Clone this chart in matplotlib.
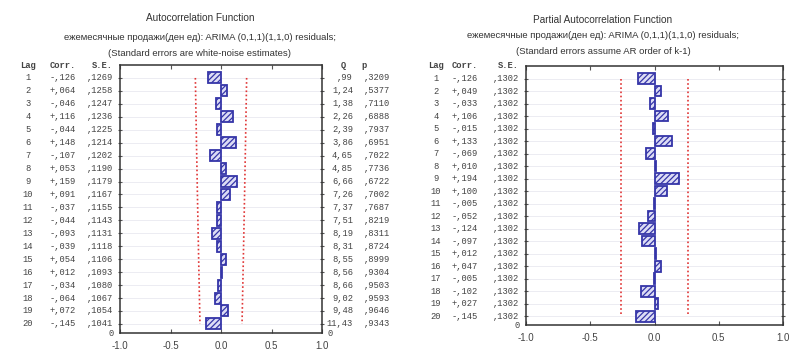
import numpy as np
import matplotlib
matplotlib.use("Agg")
import matplotlib.pyplot as plt
from matplotlib.transforms import blended_transform_factory

# --- values ---
lags = list(range(1, 21))

acf_corr = [-.126, .064, -.046, .116, -.044, .148, -.107, .053, .159, .091,
            -.037, -.044, -.093, -.039, .054, .012, -.034, -.064, .072, -.145]
acf_se = [.1269, .1258, .1247, .1236, .1225, .1214, .1202, .1190, .1179, .1167,
          .1155, .1143, .1131, .1118, .1106, .1093, .1080, .1067, .1054, .1041]
acf_q = [.99, 1.24, 1.38, 2.26, 2.39, 3.86, 4.65, 4.85, 6.66, 7.26,
         7.37, 7.51, 8.19, 8.31, 8.55, 8.56, 8.66, 9.02, 9.48, 11.43]
acf_p = [.3209, .5377, .7110, .6888, .7937, .6951, .7022, .7736, .6722, .7002,
         .7687, .8219, .8311, .8724, .8999, .9304, .9503, .9593, .9646, .9343]

pacf_corr = [-.126, .049, -.033, .106, -.015, .133, -.069, .010, .194, .100,
             -.005, -.052, -.124, -.097, .012, .047, -.005, -.102, .027, -.145]
pacf_se = [.1302] * 20

x_ticks = [-1.0, -0.5, 0.0, 0.5, 1.0]
x_labels = ["-1.0", "-0.5", "0.0", "0.5", "1.0"]
subtitle = "ежемесячные продажи(ден ед): ARIMA (0,1,1)(1,1,0) residuals;"

W, H = 801, 350
plt.rcParams["hatch.linewidth"] = 0.9
fig = plt.figure(figsize=(W / 100, H / 100), dpi=100)

mono = "Liberation Mono"
sans = "Liberation Sans"
txt_col = "#444444"
fs = 6.3


def fmt_corr(v):
    return ("+" if v >= 0 else "-") + ("%.3f" % abs(v)).replace("0.", ",")


def fmt_dec(v, nd):
    s = ("%." + str(nd) + "f") % v
    if s.startswith("0."):
        s = s[1:]
    return s.replace(".", ",")


def put(ax, x, y, s, ha, bold=False):
    tr = blended_transform_factory(fig.transFigure, ax.transData)
    ax.text(x / W, y, s, transform=tr, ha=ha, va="center", fontsize=fs,
            family=mono, color=txt_col, weight="bold" if bold else "normal")


def draw_panel(rect, corr, se, cols, qcols=None, q=None, p=None):
    ax = fig.add_axes([rect[0] / W, 1 - rect[3] / H,
                       (rect[2] - rect[0]) / W, (rect[3] - rect[1]) / H])
    n = len(corr)
    ax.barh(lags, corr, height=0.85, color="#dcdcf5", edgecolor="#3535a8",
            hatch="//////", linewidth=1.3, zorder=3)
    lim = 2 * np.array(se)
    for sign in (-1, 1):
        ax.plot(sign * lim, lags, color="#e03535", ls=(0, (1, 1.5)),
                lw=1.2, zorder=2)

    ax.set_xlim(-1.0, 1.0)
    ax.set_ylim(n + 0.7, 0)
    ax.set_xticks(x_ticks)
    ax.set_xticklabels(x_labels, fontsize=7, family=sans, color=txt_col)
    ax.set_yticks(lags)
    ax.set_yticklabels([])
    ax.tick_params(axis="x", direction="in", length=3, top=True, pad=6,
                   color="#555555")
    ax.tick_params(axis="y", direction="inout", length=3, right=True,
                   color="#555555")
    ax.grid(axis="y", color="#ececf2", lw=0.7, zorder=0)
    for sp in ax.spines.values():
        sp.set_color("#333333")
        sp.set_linewidth(1.1)

    xl, xc, xs = cols
    put(ax, xl, 0.0, "Lag", "center", True)
    put(ax, xc, 0.0, "Corr.", "right", True)
    put(ax, xs, 0.0, "S.E.", "right", True)
    for i, lag in enumerate(lags):
        put(ax, xl, lag, str(lag), "center")
        put(ax, xc, lag, fmt_corr(corr[i]), "right")
        put(ax, xs, lag, fmt_dec(se[i], 4), "right")
    put(ax, rect[0] - 6, n + 0.7, "0", "right")

    if q is not None:
        xq, xp = qcols
        put(ax, xq - 10, 0.0, "Q", "center", True)
        put(ax, xp - 26, 0.0, "p", "center", True)
        for i, lag in enumerate(lags):
            put(ax, xq, lag, fmt_dec(q[i], 2), "right")
            put(ax, xp, lag, fmt_dec(p[i], 4), "right")
        put(ax, rect[2] + 6, n + 0.7, "0", "left")
    return ax


# left panel: ACF  (pixel box: left, top, right, bottom)
draw_panel((120, 65, 322, 333), acf_corr, acf_se, (28, 76, 113),
           qcols=(353, 390), q=acf_q, p=acf_p)
# right panel: PACF
draw_panel((526, 66, 783, 325), pacf_corr, pacf_se, (436, 478, 519))

title_kw = dict(ha="center", va="center", family=sans, color="#333333")
fig.text(200 / W, 1 - 18 / H, "Autocorrelation Function", fontsize=7.2, **title_kw)
fig.text(200 / W, 1 - 37 / H, subtitle, fontsize=6.8, **title_kw)
fig.text(200 / W, 1 - 54 / H, "(Standard errors are white-noise estimates)",
         fontsize=6.8, **title_kw)

fig.text(603 / W, 1 - 20 / H, "Partial Autocorrelation Function", fontsize=7.2, **title_kw)
fig.text(603 / W, 1 - 36 / H, subtitle, fontsize=6.8, **title_kw)
fig.text(603 / W, 1 - 52 / H, "(Standard errors assume AR order of k-1)",
         fontsize=6.8, **title_kw)

fig.savefig("out.png", dpi=100)
